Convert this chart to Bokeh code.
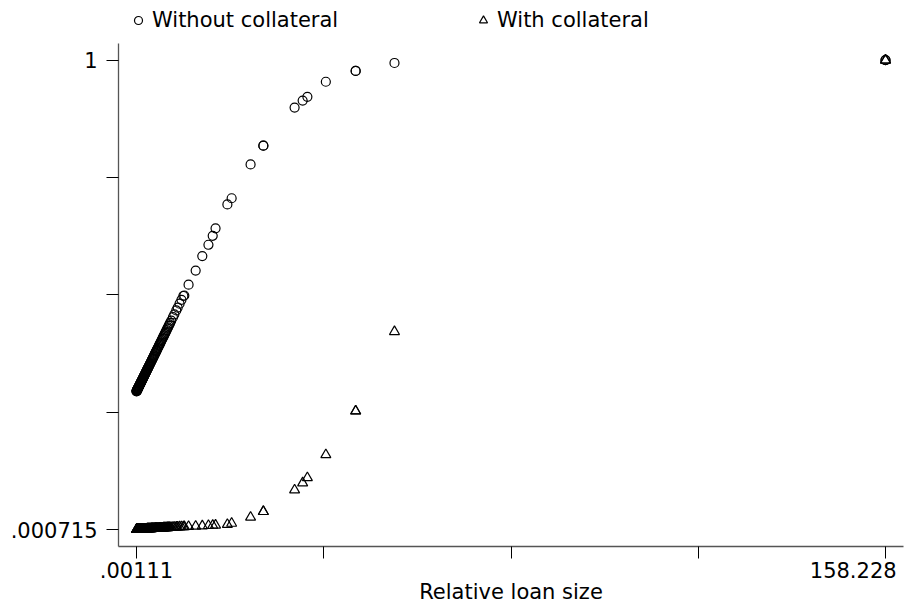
import numpy as np
from bokeh.plotting import figure
from bokeh.models import (Range1d, FixedTicker, CustomJSTickFormatter, Legend,
                          LegendItem, ColumnDataSource)
from bokeh.embed import file_html
from bokeh.resources import INLINE

# ---------------- data ----------------
relative_loan_size = [
    158.228, 158.228, 54.5, 46.3, 46.3, 40.0, 36.1, 35.1, 33.4, 26.8, 26.8,
    24.1, 20.1, 19.2, 16.7, 16.1, 15.2, 13.9, 12.5, 11.0, 10.1,
    9.9, 9.5, 9.1, 8.7, 8.4, 8.0, 7.7, 7.35, 7.1, 6.8, 6.5, 6.2, 5.95, 5.7,
    5.45, 5.2, 4.95, 4.75, 4.52, 4.3, 4.12, 3.93, 3.74, 3.55, 3.38, 3.2,
    3.02, 2.86, 2.7, 2.55, 2.4, 2.25, 2.1, 1.98, 1.85, 1.72, 1.6, 1.49,
    1.37, 1.26, 1.15, 1.05, 0.95, 0.86, 0.78, 0.7, 0.62, 0.55, 0.48, 0.41,
    0.35, 0.3, 0.24, 0.19, 0.15, 0.11, 0.08, 0.05, 0.02, 0.00111,
    0.035, 0.065, 0.095, 0.13, 0.17, 0.215, 0.27, 0.325, 0.38, 0.445, 0.515,
    0.585, 0.66, 0.74, 0.82, 0.9, 1.0, 1.1, 1.2, 1.31, 1.43, 1.55, 1.66,
    1.78, 1.92, 2.04, 2.17, 2.32, 2.47, 2.62, 2.78, 2.94, 3.11, 3.29, 3.46,
    3.64, 3.83, 4.02, 4.21, 4.41, 4.63, 4.85, 5.07, 5.32, 5.57, 5.82, 6.07,
    6.35, 6.65, 6.95,
]
without_collateral = [
    1.0, 1.0, 0.994, 0.977, 0.977, 0.954, 0.922, 0.914, 0.899, 0.818, 0.818,
    0.778, 0.706, 0.693, 0.642, 0.626, 0.607, 0.583, 0.552, 0.522, 0.499,
    0.498, 0.4898, 0.4816, 0.4734, 0.4672, 0.459, 0.4529, 0.4457, 0.4406,
    0.4344, 0.4283, 0.4221, 0.417, 0.4119, 0.4067, 0.4016, 0.3965, 0.3924,
    0.3877, 0.3832, 0.3795, 0.3756, 0.3717, 0.3678, 0.3643, 0.3606, 0.3569,
    0.3536, 0.3504, 0.3473, 0.3442, 0.3411, 0.3381, 0.3356, 0.3329, 0.3303,
    0.3278, 0.3255, 0.3231, 0.3208, 0.3186, 0.3165, 0.3145, 0.3126, 0.311,
    0.3094, 0.3077, 0.3063, 0.3048, 0.3034, 0.3022, 0.3012, 0.2999, 0.2989,
    0.2981, 0.2973, 0.2966, 0.296, 0.2954, 0.295,
    0.2957, 0.2963, 0.2969, 0.2977, 0.2985, 0.2994, 0.3005, 0.3017, 0.3028,
    0.3041, 0.3056, 0.307, 0.3085, 0.3102, 0.3118, 0.3135, 0.3155, 0.3176,
    0.3196, 0.3219, 0.3243, 0.3268, 0.329, 0.3315, 0.3344, 0.3368, 0.3395,
    0.3426, 0.3456, 0.3487, 0.352, 0.3553, 0.3588, 0.3624, 0.3659, 0.3696,
    0.3735, 0.3774, 0.3813, 0.3854, 0.3899, 0.3944, 0.3989, 0.4041, 0.4092,
    0.4143, 0.4194, 0.4252, 0.4313, 0.4375,
]
with_collateral = [
    1.0, 1.0, 0.422, 0.253, 0.253, 0.160, 0.111, 0.100, 0.085, 0.039, 0.039,
    0.027, 0.014, 0.0115, 0.0101, 0.0097, 0.0092, 0.0085, 0.0078, 0.0072,
    0.0069, 0.00682, 0.00657, 0.00633, 0.00608, 0.0059, 0.00565, 0.00547,
    0.00525, 0.0051, 0.00491, 0.00473, 0.00454, 0.00439, 0.00423, 0.00408,
    0.00392, 0.00377, 0.00365, 0.0035, 0.00337, 0.00326, 0.00314, 0.00302,
    0.0029, 0.0028, 0.00269, 0.00258, 0.00248, 0.00238, 0.00229, 0.0022,
    0.00211, 0.00202, 0.00195, 0.00187, 0.00179, 0.00172, 0.00165, 0.00158,
    0.00152, 0.00145, 0.00139, 0.00133, 0.00127, 0.00122, 0.00117, 0.00112,
    0.00108, 0.00103, 0.00099, 0.00095, 0.00092, 0.00088, 0.00085, 0.00082,
    0.00079, 0.00077, 0.00075, 0.00073, 0.000715,
    0.00074, 0.00076, 0.00078, 0.0008, 0.00083, 0.00086, 0.0009, 0.00093,
    0.00097, 0.00101, 0.00105, 0.0011, 0.00114, 0.00119, 0.00124, 0.0013,
    0.00136, 0.00142, 0.00148, 0.00155, 0.00162, 0.00169, 0.00175, 0.00183,
    0.00191, 0.00198, 0.00206, 0.00215, 0.00224, 0.00233, 0.00243, 0.00253,
    0.00263, 0.00274, 0.00285, 0.00296, 0.00308, 0.0032, 0.00331, 0.00343,
    0.00357, 0.00371, 0.00384, 0.004, 0.00415, 0.00431, 0.00446, 0.00464,
    0.00482, 0.005,
]
series_names = ["Without collateral", "With collateral"]
x_title = "Relative loan size"
# the last x label is pushed left (as in the reference) with trailing spaces
x_tick_labels = [".00111", "", "", "", "158.228" + "\u00a0\u2009"]
y_tick_labels = [".000715", "", "", "", "1"]
x_lo, x_hi = 0.00111, 158.228
y_lo, y_hi = 0.000715, 1.0

FONT = "DejaVu Sans"
FS = "21px"

source = ColumnDataSource(dict(x=relative_loan_size, wo=without_collateral,
                               wc=with_collateral))

Y_BOTTOM, Y_AXIS_TOP, Y_FRAME_TOP = -0.0353, 1.036, 1.127
p = figure(width=907, height=606, output_backend="svg", toolbar_location=None,
           x_range=Range1d(-3.8015, 162.03), y_range=Range1d(Y_BOTTOM, Y_FRAME_TOP),
           min_border_left=118, min_border_right=4, min_border_top=0,
           min_border_bottom=57, background_fill_color="white",
           border_fill_color="white")
p.outline_line_color = None
p.grid.visible = False

r1 = p.scatter("x", "wo", source=source, marker="circle", size=9,
               fill_color=None, line_color="black", line_width=1.2)
r2 = p.scatter("x", "wc", source=source, marker="triangle", size=10,
               fill_color=None, line_color="black", line_width=1.2)

# axes
p.xaxis.ticker = FixedTicker(ticks=list(np.linspace(x_lo, x_hi, 5)), minor_ticks=[])
p.yaxis.ticker = FixedTicker(ticks=list(np.linspace(y_lo, y_hi, 5)), minor_ticks=[])
p.xaxis.formatter = CustomJSTickFormatter(args=dict(labels=x_tick_labels),
                                          code="return labels[index];")
p.yaxis.formatter = CustomJSTickFormatter(args=dict(labels=y_tick_labels),
                                          code="return labels[index];")
p.yaxis.bounds = (Y_BOTTOM, Y_AXIS_TOP)
for ax in (p.xaxis[0], p.yaxis[0]):
    ax.axis_line_color = "#555555"
    ax.axis_line_width = 1.3
    ax.major_tick_line_color = "black"
    ax.major_tick_line_width = 1
    ax.major_tick_in = 0
    ax.major_tick_out = 12
    ax.minor_tick_line_color = None
    ax.major_label_text_font = FONT
    ax.major_label_text_font_size = FS
    ax.major_label_text_color = "black"
p.xaxis.major_label_standoff = 0
p.yaxis.major_label_standoff = 9
p.xaxis.axis_label = x_title
p.xaxis.axis_label_text_font = FONT
p.xaxis.axis_label_text_font_size = FS
p.xaxis.axis_label_text_font_style = "normal"
p.xaxis.axis_label_text_color = "black"
p.xaxis.axis_label_standoff = -6

legend = Legend(items=[LegendItem(label=series_names[0], renderers=[r1]),
                       LegendItem(label=series_names[1], renderers=[r2])],
                orientation="horizontal", location="top_left",
                border_line_color=None, background_fill_alpha=0,
                margin=8, padding=0, spacing=0, glyph_width=24,
                glyph_height=20, label_standoff=2, label_width=319,
                label_text_font=FONT, label_text_font_size=FS,
                label_text_color="black")
p.add_layout(legend)

open("out.html", "w").write(file_html(p, INLINE))
